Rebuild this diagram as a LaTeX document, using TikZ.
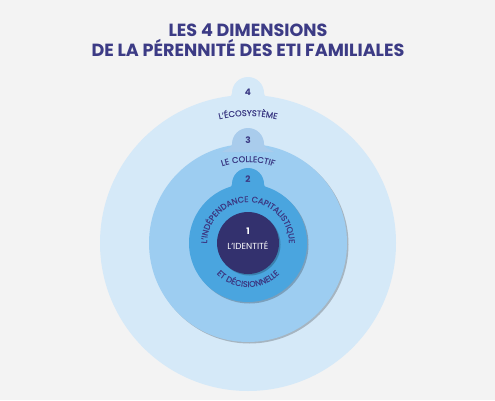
\documentclass[tikz,border=0pt]{standalone}
\usepackage{fontspec}
\setmainfont{Poppins}
\newfontfamily\arcfont{Poppins}[FakeBold=0.7, LetterSpace=6]
\usepackage{xcolor}
\usetikzlibrary{
    calc,
    shadows,
    decorations.text
}

\definecolor{pagebg}{HTML}{F3F3F3}
\definecolor{ringfour}{HTML}{D5E9F8}
\definecolor{ringthree}{HTML}{9DCDF1}
\definecolor{tabthree}{HTML}{A9CCEC}
\definecolor{ringtwo}{HTML}{4AA5DF}
\definecolor{ringone}{HTML}{33316E}
\definecolor{ink}{HTML}{3C3B85}

% tab on top of a ring, with a small fillet
\newcommand{\ringtab}[2]{%
    \fill[#2] ($(#1)+(-26,-8)$) .. controls +(6,4) and +(0,-4) .. ($(#1)+(-16,0)$)
        arc[start angle=180, end angle=0, radius=16]
        .. controls +(0,-4) and +(-6,4) .. ($(#1)+(26,-8)$) -- cycle;}

\begin{document}
\begin{tikzpicture}[
        x=1pt, y=1pt,
        disc/.style={
            circle,
            inner sep=0pt,
            minimum size=#1
        },
        shade/.style={
            drop shadow={
                shadow xshift=1.5pt,
                shadow yshift=-1.5pt,
                opacity=0.22,
                fill=black
            }
        },
        num/.style={
            font=\bfseries\fontsize{9}{9}\selectfont,
            text=ink,
            inner sep=0pt
        },
        title/.style={
            font=\bfseries\fontsize{17.6}{20.5}\selectfont,
            text=ink,
            align=center
        }
    ]

    \fill[pagebg] (0,0) rectangle (495,400);
    \useasboundingbox (0,0) rectangle (495,400);

    \node[title] (head) at (248,360)
        {LES 4 DIMENSIONS\\DE LA PÉRENNITÉ DES ETI FAMILIALES};

    \coordinate (centre) at (248,157);

    % ring 4
    \node[disc=296pt, fill=ringfour] (eco) at (centre) {};
    \coordinate (tab4) at (248,307);
    \ringtab{tab4}{ringfour}
    \node[num] (n4) at ($(tab4)+(0,1)$) {4};
    \path[decorate, decoration={text along path, text align=center,
        text={|\arcfont\fontsize{8.4}{9}\selectfont\color{ink}|L’ÉCOSYSTÈME}}]
        ($(centre)+(160:127)$) arc[start angle=160, end angle=20, radius=127];

    % ring 3
    \node[disc=198pt, fill=ringthree, shade] (coll) at (centre) {};
    \coordinate (tab3) at (248,256);
    \ringtab{tab3}{tabthree}
    \node[num] (n3) at ($(tab3)+(0,4)$) {3};
    \path[decorate, decoration={text along path, text align=center,
        text={|\arcfont\fontsize{8.4}{9}\selectfont\color{ink}|LE COLLECTIF}}]
        ($(centre)+(150:81)$) arc[start angle=150, end angle=30, radius=81];

    % ring 2
    \node[disc=118pt, fill=ringtwo, shade] (indep) at (centre) {};
    \coordinate (tab2) at (248,216);
    \ringtab{tab2}{ringtwo}
    \node[num] (n2) at ($(tab2)+(0,5)$) {2};
    \path[decorate, decoration={text along path, text align=center,
        text={|\arcfont\fontsize{8.2}{9}\selectfont\color{ink}|L’INDÉPENDANCE CAPITALISTIQUE}}]
        ($(centre)+(192:41)$) arc[start angle=192, end angle=-12, radius=41];
    \path[decorate, decoration={text along path, text align=center,
        text={|\arcfont\fontsize{8.2}{9}\selectfont\color{ink}|ET DÉCISIONNELLE}}]
        ($(centre)+(200:44)$) arc[start angle=200, end angle=340, radius=44];

    % ring 1
    \node[disc=62pt, fill=ringone, shade] (ident) at (centre) {};
    \node[num, text=white] (n1) at (248,169) {1};
    \node[font=\fontsize{8.8}{9}\selectfont, text=white, inner sep=0pt]
        (idlabel) at (248,155) {L’IDENTITÉ};

\end{tikzpicture}
\end{document}
